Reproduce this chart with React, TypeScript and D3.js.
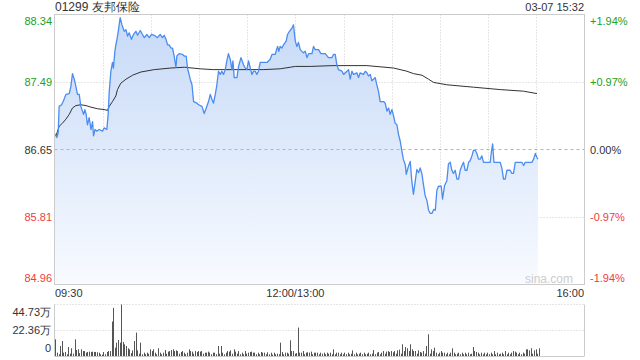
import React from "react";
import * as d3 from "d3";

const title = "01299 友邦保险";
const stamp = "03-07 15:32";
const prevClose = 86.65;
const priceTicks = [88.34, 87.49, 86.65, 85.81, 84.96];
const pctTicks = ["+1.94%", "+0.97%", "0.00%", "-0.97%", "-1.94%"];
const timeLabels = ["09:30", "12:00/13:00", "16:00"];
const volTickLabels = ["44.73万", "22.36万", "0"];
const volTickValues = [44.73, 22.36, 0];

// minutes since 09:30 (lunch break removed) and price
const priceTimes = [0, 1.5, 2.3, 2.9, 4.4, 5.6, 7.1, 9.2, 10.2, 11.2, 12.3, 13.3, 14.3, 15.4, 16.4, 17.4, 18.1, 18.9, 19.7, 20.5,
  21.6, 22.7, 23.7, 24.3, 25.2, 26.4, 27.8, 29.9, 30.9, 32.6, 33.4, 34.1, 35.1, 36.1, 36.7, 37.6, 38.2, 38.9, 39.7, 40.9,
  42.0, 43.4, 44.5, 45.5, 46.5, 47.9, 49.2, 50.7, 51.7, 53.4, 54.8, 55.9, 57.5, 59.0, 60.4, 62.1, 64.1, 65.8, 67.2, 68.3,
  69.4, 70.4, 71.4, 72.5, 73.5, 74.5, 75.6, 76.2, 77.6, 79.7, 80.8, 82.0, 82.8, 84.5, 85.6, 86.6, 88.7, 89.7, 91.8, 93.2,
  94.5, 95.9, 97.0, 98.0, 99.0, 100.1, 101.1, 102.1, 103.2, 104.2, 105.2, 106.3, 107.3, 108.3, 109.4, 110.5, 111.1, 111.9, 113.6, 114.6,
  116.1, 117.7, 118.7, 119.8, 120.8, 121.9, 122.9, 123.9, 125.0, 126.0, 127.0, 128.1, 132.3, 134.3, 135.4, 137.4, 138.9, 139.7, 140.5, 141.6,
  142.6, 144.3, 145.1, 146.3, 147.8, 148.8, 149.9, 150.9, 151.9, 153.0, 155.0, 156.1, 157.2, 158.2, 160.3, 161.3, 162.3, 164.4, 165.9, 168.6,
  170.6, 172.7, 173.7, 174.8, 175.8, 176.8, 179.0, 180.0, 182.1, 183.1, 184.1, 185.2, 186.2, 188.3, 189.3, 190.3, 192.4, 193.5, 194.5, 195.5,
  196.6, 197.6, 198.6, 199.7, 200.7, 201.7, 202.8, 204.9, 205.9, 207.0, 208.0, 209.0, 210.1, 211.1, 212.1, 213.2, 214.2, 215.3, 216.3, 217.3,
  218.4, 219.0, 220.4, 221.5, 222.5, 223.5, 224.6, 225.6, 226.7, 227.7, 228.8, 229.8, 230.8, 231.9, 232.9, 234.0, 235.0, 236.1, 237.1, 238.1,
  239.1, 240.8, 241.6, 242.9, 244.3, 245.3, 246.4, 247.4, 248.4, 249.5, 250.6, 251.6, 252.6, 253.7, 254.7, 255.7, 256.8, 257.8, 258.8, 259.9,
  260.9, 262.0, 263.0, 264.0, 265.1, 266.1, 267.1, 271.3, 271.9, 272.8, 273.6, 277.5, 278.6, 279.6, 280.6, 281.7, 283.7, 284.8, 285.8, 286.9,
  291.0, 292.1, 293.1, 297.3, 298.3, 299.4, 300.4, 301.0];
const prices = [86.85, 86.80, 86.86, 87.19, 87.21, 87.26, 87.34, 87.35, 87.44, 87.60, 87.53, 87.44, 87.34, 87.34, 87.19, 87.13, 87.09, 87.15, 87.09, 86.96,
  87.05, 86.90, 87.00, 86.82, 86.90, 86.88, 86.90, 86.88, 86.92, 86.90, 87.09, 87.38, 87.63, 87.74, 87.67, 87.88, 87.96, 88.03, 88.13, 88.30,
  88.21, 88.13, 88.15, 88.07, 88.11, 88.03, 88.09, 88.13, 88.08, 88.14, 88.09, 88.05, 88.09, 88.05, 88.09, 88.08, 88.05, 88.09, 88.05, 88.08,
  88.03, 87.96, 87.96, 87.92, 87.92, 87.82, 87.68, 87.82, 87.85, 87.84, 87.82, 87.82, 87.67, 87.53, 87.46, 87.25, 87.23, 87.21, 87.19, 87.10,
  87.17, 87.25, 87.34, 87.28, 87.23, 87.34, 87.46, 87.63, 87.59, 87.63, 87.59, 87.65, 87.76, 87.85, 87.78, 87.65, 87.76, 87.55, 87.55, 87.69,
  87.80, 87.71, 87.67, 87.65, 87.76, 87.67, 87.59, 87.63, 87.63, 87.59, 87.63, 87.74, 87.74, 87.78, 87.84, 87.84, 87.94, 87.88, 87.94, 87.92,
  87.96, 88.01, 88.09, 88.13, 88.17, 88.21, 88.01, 87.94, 87.99, 87.90, 87.86, 87.88, 87.80, 87.85, 87.85, 87.94, 87.90, 87.90, 87.85, 87.85,
  87.80, 87.80, 87.84, 87.84, 87.71, 87.65, 87.63, 87.59, 87.63, 87.65, 87.53, 87.63, 87.59, 87.61, 87.55, 87.61, 87.59, 87.63, 87.61, 87.57,
  87.59, 87.51, 87.53, 87.55, 87.46, 87.38, 87.25, 87.25, 87.23, 87.13, 87.17, 87.09, 87.15, 87.07, 86.98, 86.96, 86.84, 86.75, 86.63, 86.52,
  86.46, 86.34, 86.44, 86.50, 86.25, 86.09, 86.25, 86.40, 86.36, 86.42, 86.34, 86.20, 86.07, 86.01, 85.89, 85.85, 85.85, 85.90, 85.89, 86.14,
  86.19, 86.19, 86.03, 86.20, 86.26, 86.47, 86.49, 86.39, 86.35, 86.39, 86.28, 86.28, 86.39, 86.45, 86.49, 86.39, 86.39, 86.49, 86.51, 86.57,
  86.64, 86.64, 86.60, 86.53, 86.53, 86.57, 86.49, 86.49, 86.60, 86.72, 86.49, 86.49, 86.41, 86.28, 86.28, 86.39, 86.39, 86.35, 86.35, 86.49,
  86.49, 86.45, 86.49, 86.49, 86.53, 86.60, 86.55, 86.53];

const avgTimes = [0.9, 2.9, 5.0, 7.1, 9.2, 11.2, 13.3, 16.4, 19.6, 22.7, 26.8, 30.9, 33.0, 34.1, 36.1, 38.2, 39.2, 41.3, 44.5, 48.6,
  53.8, 62.1, 72.5, 80.8, 90.7, 98.8, 111.3, 129.9, 140.5, 149.9, 159.2, 173.5, 194.5, 211.1, 219.4, 223.5, 228.8, 232.9, 236.0, 244.3,
  260.9, 277.5, 292.0, 300.4];
const avgPrices = [86.82, 86.94, 86.98, 87.03, 87.09, 87.17, 87.20, 87.21, 87.20, 87.18, 87.16, 87.15, 87.14, 87.19, 87.25, 87.32, 87.40, 87.48, 87.53, 87.58,
  87.62, 87.65, 87.67, 87.68, 87.66, 87.65, 87.65, 87.65, 87.66, 87.69, 87.69, 87.70, 87.70, 87.67, 87.63, 87.60, 87.58, 87.53, 87.49, 87.46,
  87.43, 87.40, 87.38, 87.35];

// per-minute volume, 万 shares
const volumes = [
  14.5, 2.9, 1.5, 8.7, 13, 2.9, 3.5, 1.5, 7.8, 2,
  6.7, 2, 14.5, 5.2, 5.8, 2.5, 5.8, 4.3, 4.3, 2.9,
  3.5, 3.8, 3.5, 3.8, 3.5, 3.5, 3.2, 2.9, 1.5, 1.2,
  3.5, 1.5, 3.5, 4.3, 4.3, 29.9, 41.8, 7.2, 11.6, 13.9,
  11.6, 44.7, 12.2, 10.1, 8.7, 6.7, 5.8, 2.5, 4.9, 13,
  20.3, 4.9, 2, 11.6, 1.5, 2.9, 1.5, 2.9, 2, 5.8,
  4.3, 5.8, 2.9, 1.5, 6.7, 2.9, 1.5, 2.9, 5.2, 2,
  3.8, 4.3, 5.2, 5.8, 4.3, 4.9, 4.3, 2, 3.5, 4.3,
  2.9, 1.5, 2.9, 5.8, 4.3, 3.8, 2, 4.3, 3.5, 4.3,
  3.8, 4.3, 2, 2.9, 2.9, 3.8, 2.9, 1.5, 2.9, 2.9,
  1.5, 8.7, 2, 8.7, 2.9, 1.5, 2.9, 4.3, 3.8, 4.9,
  2, 5.8, 3.8, 2, 4.3, 1.5, 2.9, 1.5, 4.3, 2,
  2.9, 3.5, 3.8, 2.9, 2.9, 1.5, 2.9, 1.5, 3.5, 2.9,
  2.9, 1.5, 3.2, 1.5, 2.9, 1.2, 2.9, 1.5, 2, 1.5,
  11.6, 3.5, 1.5, 2.9, 2.9, 2, 13.6, 4.3, 4.3, 2,
  2.5, 24.7, 2.9, 2.9, 4.3, 1.5, 2.9, 3.2, 2.9, 3.8,
  1.5, 2.9, 2.9, 2.9, 1.5, 2.9, 2, 2.9, 1.5, 2.9,
  2, 2.9, 1.5, 5.8, 1.5, 2.9, 2.9, 1.5, 2.9, 1.5,
  2.9, 1.5, 2.9, 1.5, 2, 4.9, 1.5, 2.9, 1.5, 2,
  2.9, 1.5, 2.9, 1.5, 2, 2.9, 1.5, 2, 5.2, 1.5,
  2.9, 3.5, 1.5, 2.9, 4.3, 2, 3.8, 4.3, 3.5, 4.3,
  3.2, 4.3, 2, 4.9, 5.5, 2, 10.2, 4.3, 7.8, 6.7,
  4.3, 10.2, 5.8, 4.3, 4.3, 2, 4.9, 3.5, 2.9, 4.3,
  2, 8.7, 18.9, 2, 5.8, 4.3, 7.2, 2.9, 1.5, 2.9,
  4.3, 2.9, 2.9, 1.5, 2.9, 1.5, 2.9, 6.7, 2.9, 1.5,
  2, 2.9, 1.5, 2.9, 1.5, 2.9, 1.5, 2.9, 1.5, 2,
  7.8, 4.3, 3.5, 2.9, 1.5, 2.9, 1.5, 2.9, 1.5, 2.9,
  1.5, 2.9, 1.5, 4.3, 1.5, 2.9, 1.5, 2, 2.9, 1.5,
  4.3, 1.5, 2.9, 1.5, 2.9, 4.3, 3.8, 2.9, 1.5, 2.9,
  1.5, 2.9, 2, 5.8, 5.8, 4.9, 6.7, 2, 4.9, 5.8,
  2, 6.7,
];

const GREEN = "#22a022";
const RED = "#f23b3b";
const DARK = "#333";
const FONT = "'Liberation Sans', Arial, sans-serif";

export default function App() {
  const left = 54.5, right = 584.5, top = 14.5, bottom = 284.5;
  const vTop = 304.5, vBottom = 356;
  const x = d3.scaleLinear().domain([0, 330]).range([left, right]);
  const y = d3.scaleLinear().domain([priceTicks[4], priceTicks[0]]).range([bottom, top]);
  const vy = d3.scaleLinear().domain([0, volTickValues[0]]).range([vBottom, vTop]);

  const pts = priceTimes.map((t, i) => [t, prices[i]] as [number, number]);
  const avgPts = avgTimes.map((t, i) => [t, avgPrices[i]] as [number, number]);
  const line = d3.line<[number, number]>().x(d => x(d[0])).y(d => y(d[1]));
  const area = d3.area<[number, number]>().x(d => x(d[0])).y0(bottom).y1(d => y(d[1]));

  const vGrid = d3.range(1, 11).map(i => x(i * 30));
  const labelColor = (i: number) => (i < 2 ? GREEN : i === 2 ? DARK : RED);
  const labelY = (i: number) => {
    const yy = y(priceTicks[i]);
    if (i === 0) return yy + 10;
    if (i === 4) return yy - 3;
    return yy + 4;
  };

  return (
    <svg width={640} height={360} style={{ position: "absolute", left: 0, top: 0, background: "#fff" }} fontFamily={FONT}>
      <defs>
        <linearGradient id="fillGrad" gradientUnits="userSpaceOnUse" x1="0" y1={top} x2="0" y2={bottom}>
          <stop offset="0%" stopColor="#c6d9f7" />
          <stop offset="100%" stopColor="#f8fbff" />
        </linearGradient>
      </defs>
      <text x={55} y={11} fontSize={12} fill={DARK}>{title}</text>
      <text x={584} y={11} fontSize={11} fill={DARK} textAnchor="end">{stamp}</text>

      {/* grid */}
      {vGrid.map((gx, i) => (
        <line key={"vg" + i} x1={Math.round(gx) + 0.5} x2={Math.round(gx) + 0.5} y1={top} y2={bottom} stroke="#ccc" strokeDasharray="1,2" />
      ))}
      {priceTicks.slice(1, 4).map((p, i) => i === 1 ? null : (
        <line key={"hg" + i} x1={left} x2={right} y1={Math.round(y(p)) + 0.5} y2={Math.round(y(p)) + 0.5} stroke="#ccc" strokeDasharray="1,2" />
      ))}

      <path d={area(pts) || ""} fill="url(#fillGrad)" />
      <line x1={left} x2={right} y1={Math.round(y(prevClose)) + 0.5} y2={Math.round(y(prevClose)) + 0.5} stroke="#f0a27a" strokeDasharray="3,3" />
      <path d={line(avgPts) || ""} fill="none" stroke="#333" strokeWidth={1} />
      <path d={line(pts) || ""} fill="none" stroke="#4b8cf0" strokeWidth={1.3} strokeLinejoin="round" />

      <rect x={left} y={top} width={right - left} height={bottom - top} fill="none" stroke="#ccc" />

      <text x={573} y={283} fontSize={12} fill="#ccc" textAnchor="end">sina.com</text>

      {priceTicks.map((p, i) => (
        <text key={"pl" + i} x={52} y={labelY(i)} fontSize={11} fill={labelColor(i)} textAnchor="end">{p.toFixed(2)}</text>
      ))}
      {pctTicks.map((s, i) => (
        <text key={"pr" + i} x={590} y={labelY(i)} fontSize={11} fill={labelColor(i)}>{s}</text>
      ))}

      <text x={55} y={297} fontSize={11} fill={DARK}>{timeLabels[0]}</text>
      <text x={x(150)} y={297} fontSize={11} fill={DARK} textAnchor="middle">{timeLabels[1]}</text>
      <text x={584} y={297} fontSize={11} fill={DARK} textAnchor="end">{timeLabels[2]}</text>

      {/* volume panel */}
      <line x1={left} x2={right} y1={vTop} y2={vTop} stroke="#ccc" strokeDasharray="1,2" />
      <line x1={left} x2={right} y1={Math.round(vy(volTickValues[1])) + 0.5} y2={Math.round(vy(volTickValues[1])) + 0.5} stroke="#ccc" strokeDasharray="1,2" />
      <line x1={left} x2={left} y1={vTop} y2={vBottom} stroke="#ccc" />
      <line x1={right} x2={right} y1={vTop} y2={vBottom} stroke="#ccc" />
      <line x1={left} x2={right} y1={vBottom + 0.5} y2={vBottom + 0.5} stroke="#ccc" />
      {volumes.map((v, i) => {
        const bx = Math.round(x(i + 0.5));
        return <rect key={"vb" + i} x={bx} y={vy(v)} width={1} height={vBottom - vy(v)} fill="#555" />;
      })}
      {volTickLabels.map((s, i) => (
        <text key={"vl" + i} x={51} y={i === 0 ? 316 : i === 1 ? 334 : 352} fontSize={11} fill={DARK} textAnchor="end">{s}</text>
      ))}
    </svg>
  );
}
